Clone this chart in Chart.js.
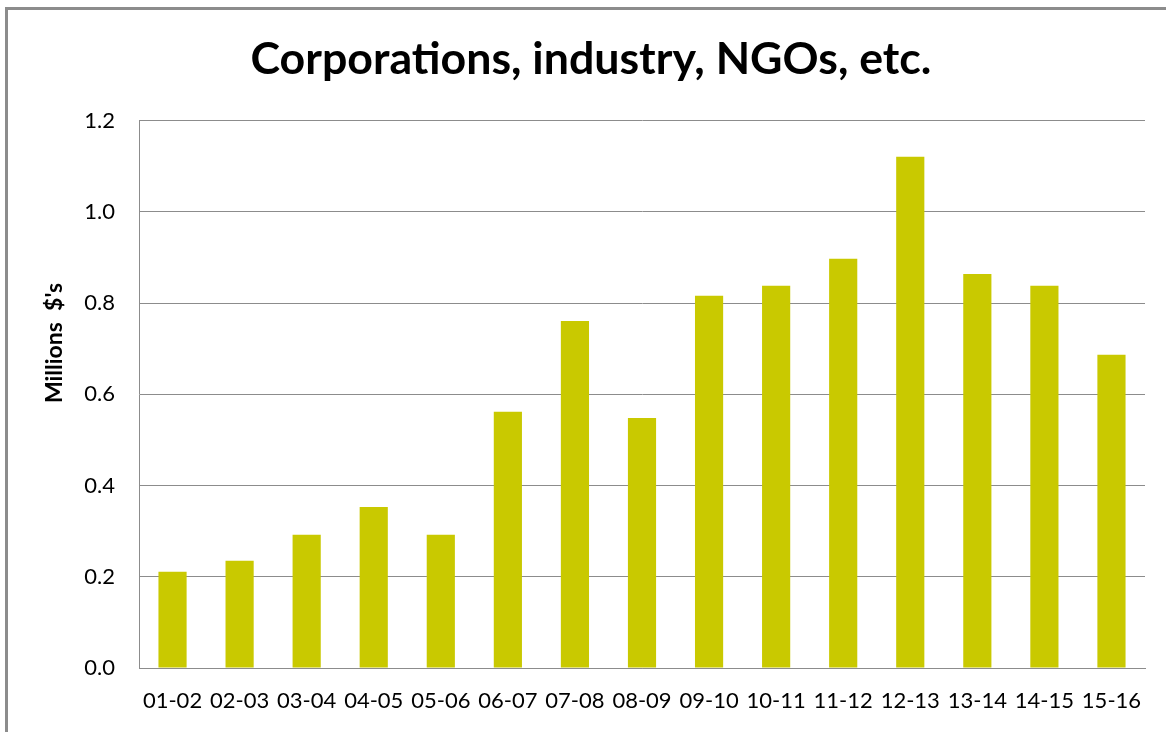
<!DOCTYPE html>
<html>
<head>
<meta charset="utf-8">
<script src="https://cdn.jsdelivr.net/npm/chart.js@4/dist/chart.umd.min.js"></script>
<style>
  html, body { margin: 0; padding: 0; background: #fff; }
  #wrap { position: relative; width: 1166px; height: 732px; }
  #frame { position: absolute; left: 5px; top: 7px; right: 0; bottom: 0; border-top: 3px solid #8c8c8c; border-left: 3px solid #8c8c8c; pointer-events: none; }
</style>
</head>
<body>
<div id="wrap">
  <canvas id="c" width="1166" height="732"></canvas>
  <div id="frame"></div>
</div>
<script>
const TITLE = "Corporations, industry, NGOs, etc.";
const Y_TITLE = "Millions  $'s";
const categories = ["01-02","02-03","03-04","04-05","05-06","06-07","07-08","08-09","09-10","10-11","11-12","12-13","13-14","14-15","15-16"];
const values = [0.211, 0.235, 0.292, 0.353, 0.292, 0.562, 0.761, 0.548, 0.816, 0.838, 0.897, 1.121, 0.864, 0.838, 0.687];
const yMin = 0, yMax = 1.2, yStep = 0.2;

const PLOT = { left: 139, right: 1145, top: 121, bottom: 668 };
const W = 1166, H = 732;
const PAD_LEFT = 37;
const YTITLE_POS = { x: 55, y: 343 };

const yTitlePlugin = {
  id: 'yTitle',
  afterDraw(chart) {
    const ctx = chart.ctx;
    ctx.save();
    ctx.translate(YTITLE_POS.x, YTITLE_POS.y);
    ctx.rotate(-Math.PI / 2);
    ctx.font = 'bold 23px Lato';
    ctx.fillStyle = '#000';
    ctx.textAlign = 'center';
    ctx.textBaseline = 'middle';
    ctx.fillText(Y_TITLE, 0, 0);
    ctx.restore();
  }
};

new Chart(document.getElementById('c'), {
  type: 'bar',
  data: {
    labels: categories,
    datasets: [{
      data: values,
      backgroundColor: '#c9c900',
      borderWidth: 0,
      barPercentage: 0.42,
      categoryPercentage: 1.0
    }]
  },
  options: {
    responsive: false,
    animation: false,
    devicePixelRatio: 1,
    layout: { padding: { left: PAD_LEFT, right: W - PLOT.right, top: 0, bottom: 0 } },
    plugins: {
      legend: { display: false },
      tooltip: { enabled: false },
      title: {
        display: true,
        text: TITLE,
        color: '#000',
        font: { family: 'Lato', size: 44.7, weight: 'bold' },
        padding: { top: 33, bottom: 34 }
      }
    },
    scales: {
      x: {
        grid: { display: false, drawTicks: false },
        border: { display: true, color: '#8c8c8c', width: 1 },
        ticks: { color: '#000', font: { family: 'Lato', size: 22 }, padding: 20, maxRotation: 0, autoSkip: false },
        afterFit: (s) => { s.height = H - PLOT.bottom; }
      },
      y: {
        min: yMin, max: yMax,
        grid: { color: '#8c8c8c', lineWidth: 1, drawTicks: false },
        border: { display: true, color: '#8c8c8c', width: 1 },
        ticks: {
          stepSize: yStep,
          color: '#000',
          font: { family: 'Lato', size: 22 },
          padding: 24,
          callback: (v) => Number(v).toFixed(1)
        },
        afterFit: (s) => { s.width = PLOT.left - PAD_LEFT; }
      }
    }
  },
  plugins: [yTitlePlugin]
});
</script>
</body>
</html>
